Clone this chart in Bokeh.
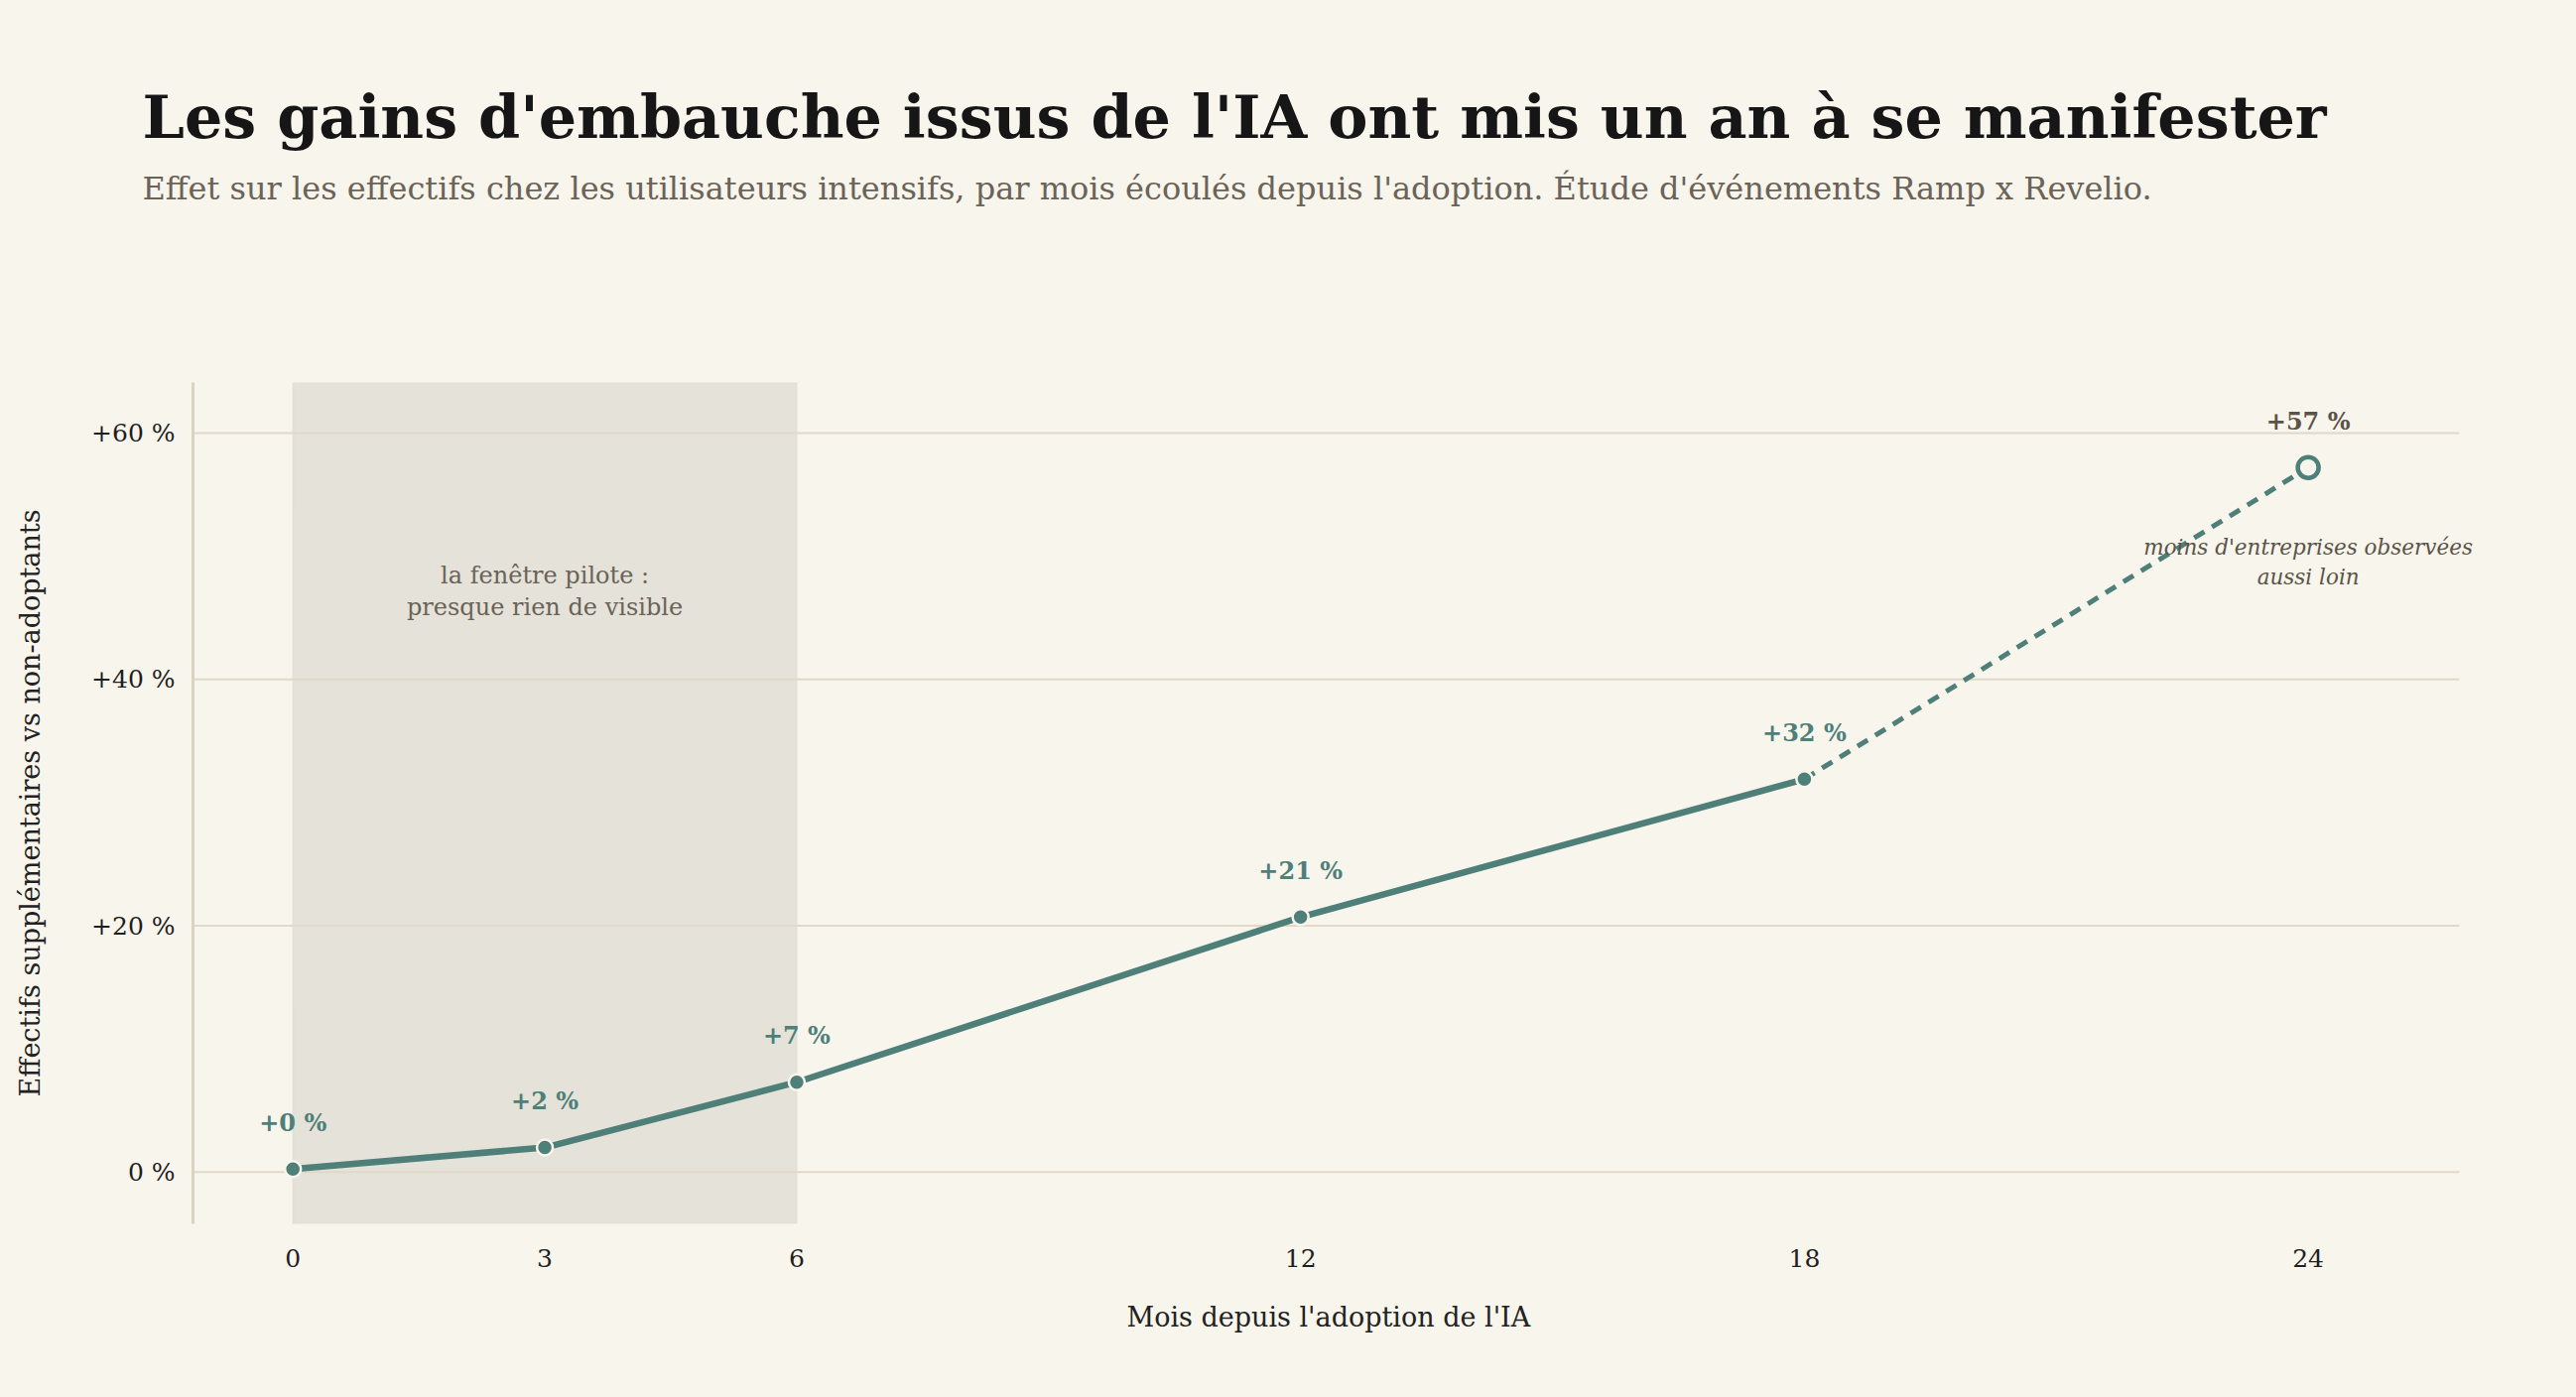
from bokeh.plotting import figure
from bokeh.models import BoxAnnotation, FixedTicker, Range1d, ColumnDataSource, Title
from bokeh.core.properties import value
from bokeh.embed import file_html
from bokeh.resources import INLINE

# ---- data ----
months = [0, 3, 6, 12, 18, 24]
effect = [0.25, 2.0, 7.3, 20.7, 31.9, 57.2]
x_ticks = [0, 3, 6, 12, 18, 24]
y_ticks = [0, 20, 40, 60]
y_tick_labels = ["0 %", "+20 %", "+40 %", "+60 %"]
pilot_window = [0, 6]

title = "Les gains d'embauche issus de l'IA ont mis un an à se manifester"
subtitle = ("Effet sur les effectifs chez les utilisateurs intensifs, par mois écoulés "
            "depuis l'adoption. Étude d'événements Ramp x Revelio.")
x_label = "Mois depuis l'adoption de l'IA"
y_label = "Effectifs supplémentaires vs non-adoptants"
pilot_note = ["la fenêtre pilote :", "presque rien de visible"]
tail_note = ["moins d'entreprises observées", "aussi loin"]

# ---- style ----
BG = "#f8f5ec"
TEAL = "#4e7f79"
GRID = "#e0d8c8"
FONT = "DejaVu Serif"
X_START, X_GRID_END, X_END = -1.19, 25.8, 26.297

p = figure(width=2580, height=1392, output_backend="svg", toolbar_location=None,
           x_range=Range1d(X_START, X_END), y_range=Range1d(-4.2, 64.1),
           min_border_left=194, min_border_right=60, min_border_top=385,
           min_border_bottom=159)
p.background_fill_color = BG
p.border_fill_color = BG
p.outline_line_color = None

# header: spacer, subtitle, title (first added sits closest to the frame)
p.add_layout(Title(text=" ", text_font=FONT, text_font_size="10px", standoff=148), "above")
p.add_layout(Title(text=subtitle, text_font=FONT, text_font_size="32px",
                   text_font_style="normal", text_color="#6b6358", align="left",
                   offset=-51, standoff=32), "above")
p.add_layout(Title(text=title, text_font=FONT, text_font_size="60.3px",
                   text_font_style="bold", text_color="#161616", align="left",
                   offset=-51, standoff=0), "above")

# pilot window shading
box = BoxAnnotation(left=pilot_window[0], right=pilot_window[1], fill_color="#e5e2da",
                    fill_alpha=1.0, line_color="#d8d4c9", line_width=2, level="image")
p.add_layout(box)

# horizontal gridlines
p.xgrid.grid_line_color = None
p.ygrid.grid_line_color = None
p.segment(x0=[X_START] * len(y_ticks), x1=[X_GRID_END] * len(y_ticks), y0=y_ticks, y1=y_ticks,
          line_color=GRID, line_width=2)

# axes
p.xaxis.ticker = FixedTicker(ticks=x_ticks)
p.yaxis.ticker = FixedTicker(ticks=y_ticks)
p.yaxis.major_label_overrides = {t: l for t, l in zip(y_ticks, y_tick_labels)}
for ax in (p.xaxis[0], p.yaxis[0]):
    ax.major_tick_line_color = None
    ax.minor_tick_line_color = None
    ax.major_label_text_font = FONT
    ax.major_label_text_font_size = "25px"
    ax.major_label_text_color = "#1f1f1f"
    ax.axis_label_text_font = FONT
    ax.axis_label_text_font_size = "27px"
    ax.axis_label_text_font_style = "normal"
    ax.axis_label_text_color = "#222222"
p.xaxis.axis_line_color = None
p.yaxis.axis_line_color = "#dbd3c2"
p.yaxis.axis_line_width = 3
p.yaxis.axis_label = y_label
p.xaxis.major_label_standoff = 19
p.yaxis.major_label_standoff = 12
p.yaxis.axis_label_standoff = 43

# x-axis title, centred under the 0-25.8 span
p.add_layout(Title(text=x_label, text_font=FONT, text_font_size="27px",
                   text_font_style="normal", text_color="#222222", align="left",
                   offset=941, standoff=60), "below")

# lines
obs_m, obs_v = months[:5], effect[:5]
tail_m, tail_v = months[4:], effect[4:]
p.line(obs_m, obs_v, line_color=TEAL, line_width=6.5)
p.line(tail_m, tail_v, line_color=TEAL, line_width=5, line_dash="12 9")

# markers
p.scatter(obs_m, obs_v, size=16, fill_color=TEAL, line_color=BG, line_width=2.5)
p.scatter(months[-1:], effect[-1:], size=21, fill_color=BG, line_color=TEAL, line_width=4.5)

# value labels
obs_src = ColumnDataSource(dict(x=obs_m, y=obs_v, t=[f"+{round(v)} %" for v in obs_v]))
p.text("x", "y", text="t", source=obs_src, text_font=value(FONT), text_font_size="24px",
       text_font_style="bold", text_color=TEAL, text_align="center",
       text_baseline="alphabetic", y_offset=-47)
last_src = ColumnDataSource(dict(x=months[-1:], y=effect[-1:],
                                 t=[f"+{round(v)} %" for v in effect[-1:]]))
p.text("x", "y", text="t", source=last_src, text_font=value(FONT), text_font_size="24px",
       text_font_style="bold", text_color="#5a5348", text_align="center",
       text_baseline="alphabetic", y_offset=-47)

# annotations
p.text(x=[3, 3], y=[48.43, 45.88], text=pilot_note, text_font=value(FONT),
       text_font_size="24px", text_color="#6b6358", text_align="center",
       text_baseline="middle")
p.text(x=[24, 24], y=[50.7, 48.3], text=tail_note, text_font=value(FONT),
       text_font_size="21.5px", text_font_style="italic", text_color="#5a5348",
       text_align="center", text_baseline="middle")

html = file_html(p, INLINE)
html = html.replace("</head>", "<style>html,body{background:#f8f5ec;}</style></head>", 1)
open("out.html", "w").write(html)
